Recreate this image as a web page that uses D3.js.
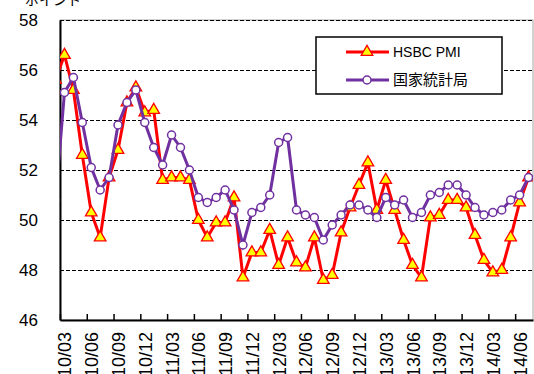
<!DOCTYPE html>
<html>
<head>
  <meta charset="UTF-8">
  <title>PMI</title>
  <script src="https://cdn.jsdelivr.net/npm/d3@7"></script>
  <style>
    body { margin: 0; background: #fff; }
    text { font-family: "Liberation Sans", Arial, "Noto Sans CJK JP", sans-serif; }
    .jp { font-family: "Noto Sans CJK JP", sans-serif; }
  </style>
</head>
<body>

<div class="chart"></div>

<script>

  // months from 10/02 (only its line stub shows, clipped at the axis) to 14/07
  var months = ['10/02',
    '10/03','10/04','10/05','10/06','10/07','10/08','10/09','10/10','10/11','10/12',
    '11/01','11/02','11/03','11/04','11/05','11/06','11/07','11/08','11/09','11/10','11/11','11/12',
    '12/01','12/02','12/03','12/04','12/05','12/06','12/07','12/08','12/09','12/10','12/11','12/12',
    '13/01','13/02','13/03','13/04','13/05','13/06','13/07','13/08','13/09','13/10','13/11','13/12',
    '14/01','14/02','14/03','14/04','14/05','14/06','14/07'];

  var hsbc = [55.6,
    56.6, 55.2, 52.6, 50.3, 49.3, 51.7, 52.8, 54.7, 55.3, 54.3,
    54.4, 51.6, 51.7, 51.7, 51.6, 50.0, 49.3, 49.9, 49.9, 50.9, 47.7, 48.7,
    48.7, 49.6, 48.2, 49.3, 48.3, 48.1, 49.3, 47.6, 47.8, 49.5, 50.5, 51.4,
    52.3, 50.4, 51.6, 50.4, 49.2, 48.2, 47.7, 50.1, 50.2, 50.8, 50.8, 50.5,
    49.4, 48.4, 47.9, 48.0, 49.3, 50.7, 51.7];

  var nbs = [50.8,
    55.1, 55.7, 53.9, 52.1, 51.2, 51.7, 53.8, 54.7, 55.2, 53.9,
    52.9, 52.2, 53.4, 52.9, 52.0, 50.9, 50.7, 50.9, 51.2, 50.4, 49.0, 50.3,
    50.5, 51.0, 53.1, 53.3, 50.4, 50.2, 50.1, 49.2, 49.8, 50.2, 50.6, 50.6,
    50.4, 50.1, 50.9, 50.6, 50.8, 50.1, 50.3, 51.0, 51.1, 51.4, 51.4, 51.0,
    50.5, 50.2, 50.3, 50.4, 50.8, 51.0, 51.7];

  var seriesNames = ['HSBC PMI', '国家統計局'];
  var yTicks = [46, 48, 50, 52, 54, 56, 58];
  var gridValues = [48, 50, 52, 54, 56, 58];
  var labelMonths = ['10/03','10/06','10/09','10/12','11/03','11/06','11/09','11/12',
    '12/03','12/06','12/09','12/12','13/03','13/06','13/09','13/12','14/03','14/06'];
  var unitLabel = 'ポイント';

  var W = 534, H = 374;
  var margin = { top: 20, right: 1, bottom: 54, left: 60 };
  var width = W - margin.left - margin.right;
  var height = H - margin.top - margin.bottom;

  var svg = d3.select('.chart')
    .append('svg')
      .attr('width', W)
      .attr('height', H);

  var g = svg.append('g')
    .attr('transform', `translate(${margin.left}, ${margin.top})`);

  var x = d3.scaleLinear()
    .domain([0.5, months.length - 0.5])
    .range([0, width]);

  var y = d3.scaleLinear()
    .domain([46, 58])
    .range([height, 0]);

  g.append('clipPath').attr('id', 'plotclip')
    .append('rect').attr('width', width).attr('height', height);

  // plot area frame
  g.append('rect')
    .attr('width', width).attr('height', height)
    .attr('fill', '#fff').attr('stroke', '#a6a6a6').attr('stroke-width', 1);

  // dashed grid
  g.selectAll('.grid')
    .data(gridValues)
    .enter().append('line')
      .attr('x1', 0).attr('x2', width)
      .attr('y1', d => y(d) + 0.5).attr('y2', d => y(d) + 0.5)
      .attr('stroke', '#000').attr('stroke-width', 1)
      .attr('stroke-dasharray', '4,2');

  // x axis: tick marks between months, labels under the month
  var tickIdx = labelMonths.map(m => months.indexOf(m) - 0.5);
  var xAxis = g.append('g')
    .attr('transform', `translate(0, ${height})`)
    .call(d3.axisBottom(x).tickValues(tickIdx).tickSizeInner(-6).tickSizeOuter(0).tickFormat(''));
  xAxis.select('.domain').attr('stroke-width', 2);
  xAxis.selectAll('.tick line').attr('stroke-width', 1.5);

  var xLab = g.append('g')
    .attr('transform', `translate(0, ${height})`)
    .call(d3.axisBottom(x).tickValues(labelMonths.map(m => months.indexOf(m)))
      .tickSize(0).tickFormat(i => months[i]));
  xLab.select('.domain').remove();
  xLab.selectAll('text')
    .attr('transform', 'rotate(-90)')
    .attr('text-anchor', 'end')
    .attr('x', -12).attr('y', 0).attr('dy', '0.36em')
    .style('font-size', '18px')
    .style('font-family', '"Liberation Sans", Arial, sans-serif')
    .attr('fill', '#000');

  // y axis
  var yAxis = g.append('g')
    .call(d3.axisLeft(y).tickValues(yTicks).tickSize(0).tickPadding(22).tickFormat(d3.format('d')));
  yAxis.select('.domain').attr('stroke-width', 2);
  yAxis.selectAll('text')
    .style('font-size', '17px')
    .style('font-family', '"Liberation Sans", Arial, sans-serif')
    .attr('fill', '#000');

  svg.append('text')
    .attr('class', 'jp')
    .attr('x', 25).attr('y', 5)
    .style('font-size', '14px')
    .text(unitLabel);

  // series
  var line = d3.line()
    .x((d, i) => x(i))
    .y(d => y(d));

  var plot = g.append('g').attr('clip-path', 'url(#plotclip)');

  var tri = d3.symbol().type(d3.symbolTriangle).size(58);

  function drawHsbc(sel) {
    sel.append('path')
      .attr('d', line(hsbc))
      .attr('fill', 'none').attr('stroke', '#ff0000').attr('stroke-width', 3);
    sel.selectAll('.tri')
      .data(hsbc)
      .enter().append('path')
        .attr('class', 'tri')
        .attr('d', tri)
        .attr('transform', (d, i) => `translate(${x(i)}, ${y(d)})`)
        .attr('fill', '#ffff00').attr('stroke', '#ff0000').attr('stroke-width', 1.3);
  }

  function drawNbs(sel) {
    sel.append('path')
      .attr('d', line(nbs))
      .attr('fill', 'none').attr('stroke', '#7030a0').attr('stroke-width', 3);
    sel.selectAll('.dot')
      .data(nbs)
      .enter().append('circle')
        .attr('class', 'dot')
        .attr('cx', (d, i) => x(i))
        .attr('cy', d => y(d))
        .attr('r', 4)
        .attr('fill', '#fff').attr('stroke', '#7030a0').attr('stroke-width', 1.5);
  }

  drawHsbc(plot.append('g'));
  drawNbs(plot.append('g'));

  // legend
  var legend = svg.append('g').attr('transform', 'translate(316, 37)');
  legend.append('rect')
    .attr('width', 186).attr('height', 57)
    .attr('fill', '#fff').attr('stroke', '#000').attr('stroke-width', 1.5);

  var rows = [15, 43];
  var lg0 = legend.append('g').attr('transform', `translate(0, ${rows[0]})`);
  lg0.append('line').attr('x1', 30).attr('x2', 73).attr('stroke', '#ff0000').attr('stroke-width', 3);
  lg0.append('path').attr('d', tri).attr('transform', 'translate(51, 0)')
    .attr('fill', '#ffff00').attr('stroke', '#ff0000').attr('stroke-width', 1.3);
  lg0.append('text').attr('x', 77).attr('dy', '0.36em').style('font-size', '14px').text(seriesNames[0]);

  var lg1 = legend.append('g').attr('transform', `translate(0, ${rows[1]})`);
  lg1.append('line').attr('x1', 30).attr('x2', 73).attr('stroke', '#7030a0').attr('stroke-width', 3);
  lg1.append('circle').attr('cx', 51).attr('r', 4)
    .attr('fill', '#fff').attr('stroke', '#7030a0').attr('stroke-width', 1.5);
  lg1.append('text').attr('class', 'jp').attr('x', 77).attr('dy', '0.36em')
    .style('font-size', '15px').text(seriesNames[1]);

</script>

</body>
</html>
